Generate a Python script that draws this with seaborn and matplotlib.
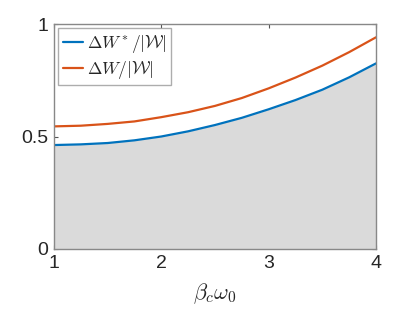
import matplotlib
matplotlib.use('Agg')
from matplotlib import pyplot as plt
import pandas as pd
import seaborn as sns

# curves
beta_omega = [1.0, 1.25, 1.5, 1.75, 2.0, 2.25, 2.5, 2.75, 3.0, 3.25, 3.5, 3.75, 4.0]
dW_star = [0.462, 0.465, 0.471, 0.483, 0.500, 0.523, 0.551, 0.583, 0.621,
           0.662, 0.708, 0.763, 0.825]
dW = [0.545, 0.548, 0.556, 0.567, 0.586, 0.608, 0.636, 0.671, 0.714,
      0.762, 0.815, 0.875, 0.941]

lab_star = r'$\Delta W^*/|\mathcal{W}|$'
lab = r'$\Delta W/|\mathcal{W}|$'

df = pd.DataFrame({'x': beta_omega * 2,
                   'y': dW_star + dW,
                   'series': [lab_star] * len(dW_star) + [lab] * len(dW)})

sns.set_style('ticks')
plt.rcParams['font.family'] = ['Liberation Sans', 'DejaVu Sans']
plt.rcParams['mathtext.fontset'] = 'cm'

fig = plt.figure(figsize=(4.15, 3.12), dpi=100)
ax = fig.add_axes([0.130, 0.202, 0.776, 0.721])

ax.fill_between(beta_omega, dW_star, 0, color='#dadada', lw=0)
sns.lineplot(data=df, x='x', y='y', hue='series',
             palette=['#0072bd', '#d95319'], lw=1.6, ax=ax)

ax.set_xlim(1, 4)
ax.set_ylim(0, 1)
ax.set_xticks([1, 2, 3, 4])
ax.set_yticks([0, 0.5, 1])
ax.set_yticklabels(['0', '0.5', '1'])
ax.set_xlabel(r'$\beta_c\omega_0$', fontsize=16, labelpad=7)
ax.set_ylabel('')
ax.tick_params(direction='in', top=True, right=True, labelsize=14,
               length=3, color='#555555', pad=4)
for s in ax.spines.values():
    s.set_color('#888888')
    s.set_linewidth(1.0)

leg = ax.legend(loc='upper left', fontsize=12.5, frameon=True, fancybox=False,
                handlelength=1.2, handletextpad=0.2, borderpad=0.25,
                labelspacing=0.25, borderaxespad=0.25)
leg.get_frame().set_edgecolor('#999999')
leg.get_frame().set_linewidth(1.0)

fig.savefig('out.png', dpi=100)
